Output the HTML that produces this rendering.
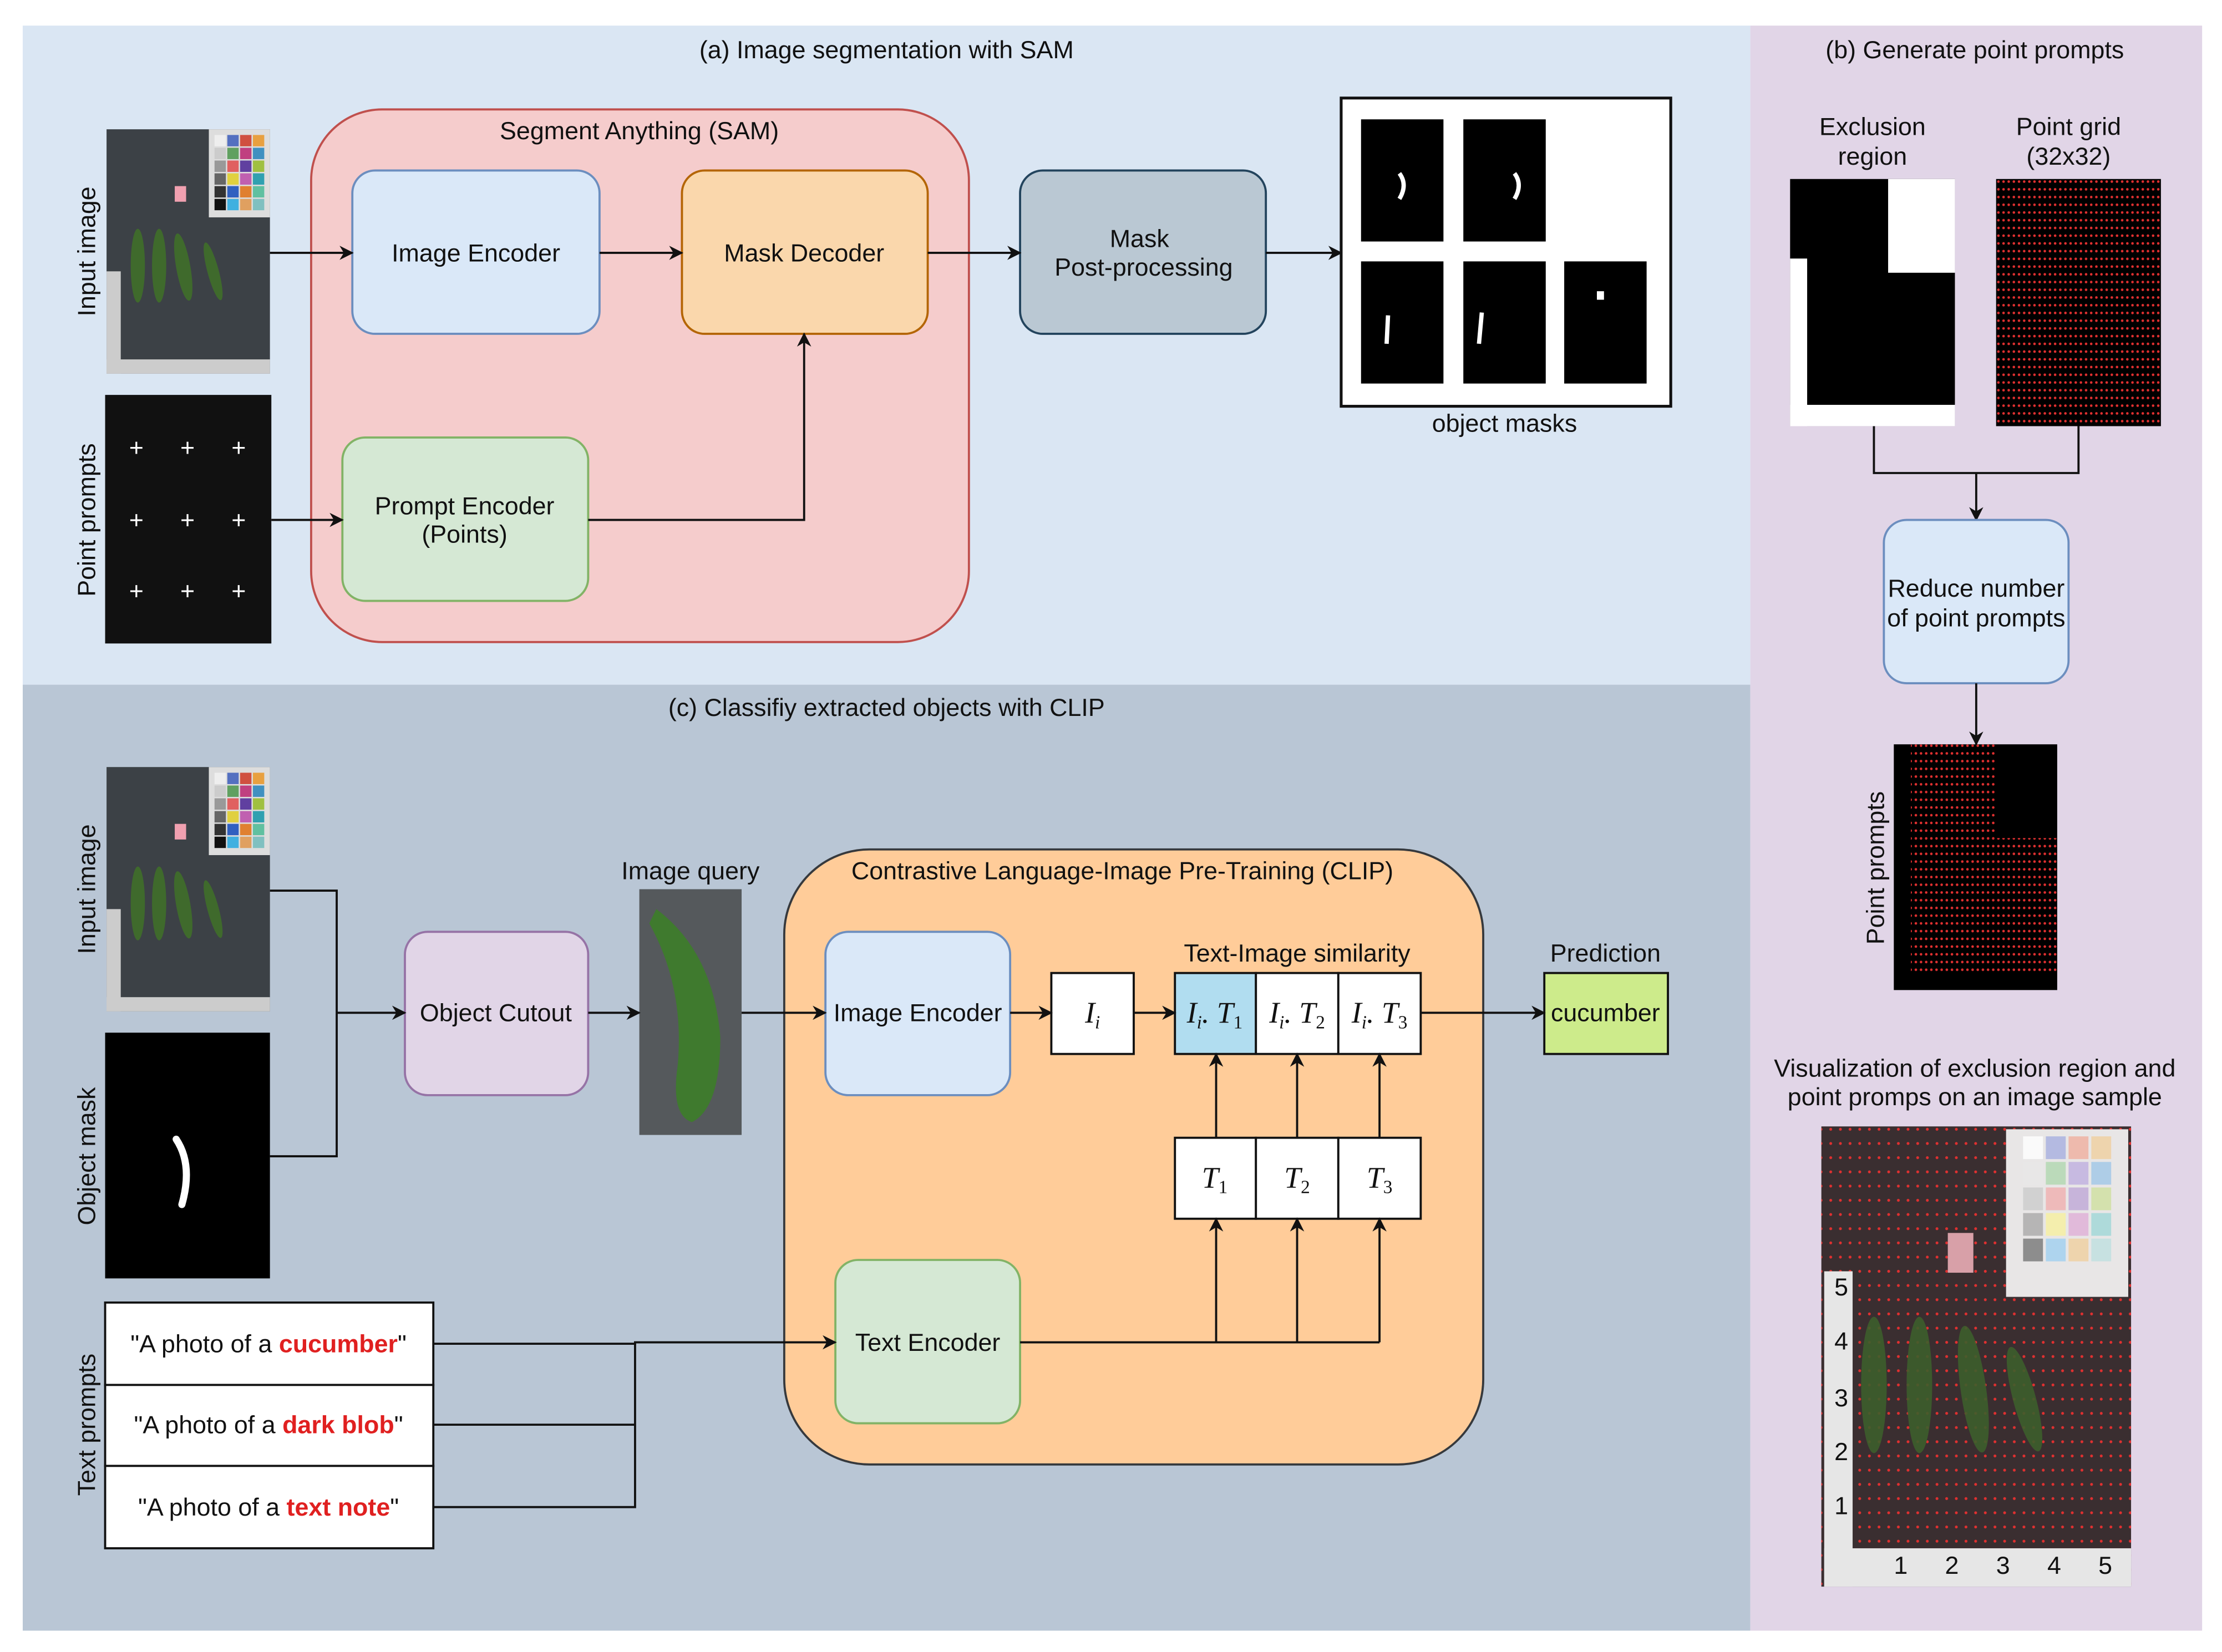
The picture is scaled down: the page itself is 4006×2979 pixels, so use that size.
<!DOCTYPE html>
<html><head><meta charset="utf-8"><style>html,body{margin:0;padding:0;background:#fff}svg{display:block}text{font-family:"Liberation Sans",sans-serif;font-size:17.5px;fill:#111}.m{font-family:"Liberation Serif",serif;font-style:italic;font-size:21px}</style></head><body>
<svg width="4006" height="2979" viewBox="0 0 1564 1163" xmlns="http://www.w3.org/2000/svg">
<defs>
<marker id="ar" markerWidth="10" markerHeight="10" refX="9" refY="5" orient="auto" markerUnits="userSpaceOnUse"><path d="M0,0 L10,5 L0,10 L3,5 Z" fill="#111"/></marker>
<pattern id="dots" width="3.63" height="5.44" patternUnits="userSpaceOnUse"><circle cx="1.8" cy="2.7" r="0.9" fill="#e03030"/></pattern>
<pattern id="dotsv" width="6.8" height="10" patternUnits="userSpaceOnUse"><circle cx="3.4" cy="5" r="1" fill="#e03030"/></pattern>
<g id="photo">
<rect x="0" y="0" width="115" height="172" fill="#3c4146"/>
<rect x="72" y="0" width="43" height="62" fill="#ddd"/>
<g>
<rect x="76" y="4" width="8" height="8" fill="#eee"/><rect x="85" y="4" width="8" height="8" fill="#5470c0"/><rect x="94" y="4" width="8" height="8" fill="#d05040"/><rect x="103" y="4" width="8" height="8" fill="#e8a040"/>
<rect x="76" y="13" width="8" height="8" fill="#ccc"/><rect x="85" y="13" width="8" height="8" fill="#60a060"/><rect x="94" y="13" width="8" height="8" fill="#c04080"/><rect x="103" y="13" width="8" height="8" fill="#4090c0"/>
<rect x="76" y="22" width="8" height="8" fill="#999"/><rect x="85" y="22" width="8" height="8" fill="#e06060"/><rect x="94" y="22" width="8" height="8" fill="#6040a0"/><rect x="103" y="22" width="8" height="8" fill="#a0c040"/>
<rect x="76" y="31" width="8" height="8" fill="#666"/><rect x="85" y="31" width="8" height="8" fill="#e0d040"/><rect x="94" y="31" width="8" height="8" fill="#c060b0"/><rect x="103" y="31" width="8" height="8" fill="#30a0b0"/>
<rect x="76" y="40" width="8" height="8" fill="#333"/><rect x="85" y="40" width="8" height="8" fill="#3060c0"/><rect x="94" y="40" width="8" height="8" fill="#e08030"/><rect x="103" y="40" width="8" height="8" fill="#60c0a0"/>
<rect x="76" y="49" width="8" height="8" fill="#111"/><rect x="85" y="49" width="8" height="8" fill="#40b0e0"/><rect x="94" y="49" width="8" height="8" fill="#e0a060"/><rect x="103" y="49" width="8" height="8" fill="#80c0c0"/>
</g>
<rect x="48" y="40" width="8" height="11" fill="#f0a0b0"/>
<rect x="0" y="100" width="10" height="72" fill="#ccc"/><rect x="0" y="162" width="115" height="10" fill="#ccc"/>
<ellipse cx="22" cy="96" rx="5" ry="26" fill="#3f6a2c"/><ellipse cx="37" cy="96" rx="5" ry="26" fill="#3f6a2c"/><ellipse cx="54" cy="97" rx="5" ry="24" fill="#3f6a2c" transform="rotate(-10 54 97)"/><ellipse cx="75" cy="100" rx="4" ry="21" fill="#3f6a2c" transform="rotate(-15 75 100)"/>
</g>
</defs>
<rect x="16" y="18" width="1216" height="464" fill="#dae6f3"/>
<rect x="16" y="482" width="1216" height="666" fill="#b9c6d5"/>
<rect x="1232" y="18" width="318" height="1130" fill="#e1d5e7"/>

<text x="624" y="41" text-anchor="middle" font-size="21.5">(a) Image segmentation with SAM</text>
<use href="#photo" x="75" y="91"/>
<rect x="74" y="278" width="117" height="175" fill="#111"/>
<g font-size="18"><text x="96" y="321" text-anchor="middle" style="fill:#fff">+</text><text x="132" y="321" text-anchor="middle" style="fill:#fff">+</text><text x="168" y="321" text-anchor="middle" style="fill:#fff">+</text><text x="96" y="372" text-anchor="middle" style="fill:#fff">+</text><text x="132" y="372" text-anchor="middle" style="fill:#fff">+</text><text x="168" y="372" text-anchor="middle" style="fill:#fff">+</text><text x="96" y="422" text-anchor="middle" style="fill:#fff">+</text><text x="132" y="422" text-anchor="middle" style="fill:#fff">+</text><text x="168" y="422" text-anchor="middle" style="fill:#fff">+</text></g>
<text transform="translate(67,177) rotate(-90)" text-anchor="middle">Input image</text>
<text transform="translate(67,366) rotate(-90)" text-anchor="middle">Point prompts</text>
<rect x="219" y="77" width="463" height="375" rx="50" fill="#f5cccc" stroke="#c0504d" stroke-width="1.5"/>
<text x="450" y="98" text-anchor="middle">Segment Anything (SAM)</text>
<rect x="248" y="120" width="174" height="115" rx="16" fill="#dae8f8" stroke="#6c8ebf" stroke-width="1.5"/>
<text x="335" y="184" text-anchor="middle">Image Encoder</text>
<rect x="480" y="120" width="173" height="115" rx="16" fill="#fad7ac" stroke="#b46504" stroke-width="1.5"/>
<text x="566" y="184" text-anchor="middle">Mask Decoder</text>
<rect x="241" y="308" width="173" height="115" rx="16" fill="#d5e8d4" stroke="#82b366" stroke-width="1.5"/>
<text x="327" y="362" text-anchor="middle">Prompt Encoder</text><text x="327" y="382" text-anchor="middle">(Points)</text>
<rect x="718" y="120" width="173" height="115" rx="16" fill="#bac8d3" stroke="#23445d" stroke-width="1.5"/>
<text x="802" y="174" text-anchor="middle">Mask</text><text x="805" y="194" text-anchor="middle">Post-processing</text>
<rect x="944" y="69" width="232" height="217" fill="#fff" stroke="#111" stroke-width="2"/>
<rect x="958" y="84" width="58" height="86" fill="#000"/><rect x="1030" y="84" width="58" height="86" fill="#000"/>
<rect x="958" y="184" width="58" height="86" fill="#000"/><rect x="1030" y="184" width="58" height="86" fill="#000"/><rect x="1101" y="184" width="58" height="86" fill="#000"/>
<path d="M985,122 q6,8 0,18" stroke="#fff" stroke-width="3" fill="none"/><path d="M1066,122 q6,8 0,18" stroke="#fff" stroke-width="3" fill="none"/>
<path d="M977,222 l-1,20" stroke="#fff" stroke-width="3"/><path d="M1043,220 l-2,22" stroke="#fff" stroke-width="3"/><rect x="1124" y="205" width="5" height="6" fill="#fff"/>
<text x="1059" y="304" text-anchor="middle">object masks</text>
<g stroke="#111" stroke-width="1.5" fill="none" marker-end="url(#ar)">
<path d="M190,178 H248"/><path d="M422,178 H480"/><path d="M653,178 H718"/><path d="M891,178 H944"/><path d="M191,366 H241"/><path d="M414,366 H566 V235"/>
</g>

<text x="624" y="504" text-anchor="middle" font-size="21.5">(c) Classifiy extracted objects with CLIP</text>
<use href="#photo" x="75" y="540"/>
<rect x="74" y="727" width="116" height="173" fill="#000"/>
<path d="M124,802 q12,18 4,46" stroke="#fff" stroke-width="5" fill="none" stroke-linecap="round"/>
<text transform="translate(67,626) rotate(-90)" text-anchor="middle">Input image</text>
<text transform="translate(67,814) rotate(-90)" text-anchor="middle">Object mask</text>
<text transform="translate(67,1003) rotate(-90)" text-anchor="middle">Text prompts</text>
<rect x="285" y="656" width="129" height="115" rx="16" fill="#e1d5e7" stroke="#9673a6" stroke-width="1.5"/>
<text x="349" y="719" text-anchor="middle">Object Cutout</text>
<text x="486" y="619" text-anchor="middle">Image query</text>
<rect x="450" y="626" width="72" height="173" fill="#55595c"/>
<path d="M462,640 q40,30 45,90 q0,50 -20,60 q-15,-5 -10,-40 q5,-55 -20,-100 z" fill="#3f7a2e"/>
<rect x="552" y="598" width="492" height="433" rx="60" fill="#ffcc99" stroke="#36393d" stroke-width="1.5"/>
<text x="790" y="619" text-anchor="middle">Contrastive Language-Image Pre-Training (CLIP)</text>
<rect x="581" y="656" width="130" height="115" rx="16" fill="#dae8f8" stroke="#6c8ebf" stroke-width="1.5"/>
<text x="646" y="719" text-anchor="middle">Image Encoder</text>
<rect x="588" y="887" width="130" height="115" rx="16" fill="#d5e8d4" stroke="#82b366" stroke-width="1.5"/>
<text x="653" y="951" text-anchor="middle">Text Encoder</text>
<text x="913" y="677" text-anchor="middle">Text-Image similarity</text>
<g stroke="#111" stroke-width="1.5">
<rect x="740" y="685" width="58" height="57" fill="#fff"/>
<rect x="827" y="685" width="57" height="57" fill="#b1ddf0"/>
<rect x="884" y="685" width="58" height="57" fill="#fff"/>
<rect x="942" y="685" width="58" height="57" fill="#fff"/>
<rect x="827" y="801" width="57" height="57" fill="#fff"/>
<rect x="884" y="801" width="58" height="57" fill="#fff"/>
<rect x="942" y="801" width="58" height="57" fill="#fff"/>
<rect x="1087" y="685" width="87" height="57" fill="#cdeb8b"/>
</g>
<text class="m" x="769" y="720" text-anchor="middle">I<tspan font-size="13" dy="4">i</tspan></text>
<text class="m" x="855" y="720" text-anchor="middle">I<tspan font-size="13" dy="4">i</tspan><tspan dy="-4">. T</tspan><tspan font-size="13" dy="4" font-style="normal">1</tspan></text>
<text class="m" x="913" y="720" text-anchor="middle">I<tspan font-size="13" dy="4">i</tspan><tspan dy="-4">. T</tspan><tspan font-size="13" dy="4" font-style="normal">2</tspan></text>
<text class="m" x="971" y="720" text-anchor="middle">I<tspan font-size="13" dy="4">i</tspan><tspan dy="-4">. T</tspan><tspan font-size="13" dy="4" font-style="normal">3</tspan></text>
<text class="m" x="855" y="836" text-anchor="middle">T<tspan font-size="13" dy="4" font-style="normal">1</tspan></text>
<text class="m" x="913" y="836" text-anchor="middle">T<tspan font-size="13" dy="4" font-style="normal">2</tspan></text>
<text class="m" x="971" y="836" text-anchor="middle">T<tspan font-size="13" dy="4" font-style="normal">3</tspan></text>
<text x="1130" y="677" text-anchor="middle">Prediction</text>
<text x="1130" y="719" text-anchor="middle">cucumber</text>
<g stroke="#111" stroke-width="1.5" fill="#fff">
<rect x="74" y="917" width="231" height="58"/><rect x="74" y="975" width="231" height="57"/><rect x="74" y="1032" width="231" height="58"/>
</g>
<text x="189" y="952" text-anchor="middle">"A photo of a <tspan font-weight="bold" style="fill:#e02020">cucumber</tspan>"</text>
<text x="189" y="1009" text-anchor="middle">"A photo of a <tspan font-weight="bold" style="fill:#e02020">dark blob</tspan>"</text>
<text x="189" y="1067" text-anchor="middle">"A photo of a <tspan font-weight="bold" style="fill:#e02020">text note</tspan>"</text>
<g stroke="#111" stroke-width="1.5" fill="none">
<path d="M190,627 H237 V814 H190"/><path d="M305,1003 H447"/><path d="M305,1061 H447 V946"/><path d="M718,945 H971"/>
</g>
<g stroke="#111" stroke-width="1.5" fill="none" marker-end="url(#ar)">
<path d="M237,713 H285"/><path d="M414,713 H450"/><path d="M522,713 H581"/><path d="M711,713 H740"/><path d="M798,713 H827"/><path d="M1000,713 H1087"/>
<path d="M305,946 H447 V945 H588"/>
<path d="M856,945 V858"/><path d="M913,945 V858"/><path d="M971,945 V858"/>
<path d="M856,801 V742"/><path d="M913,801 V742"/><path d="M971,801 V742"/>
</g>

<text x="1390" y="41" text-anchor="middle" font-size="21.5">(b) Generate point prompts</text>
<text x="1318" y="95" text-anchor="middle">Exclusion</text><text x="1318" y="116" text-anchor="middle">region</text>
<text x="1456" y="95" text-anchor="middle">Point grid</text><text x="1456" y="116" text-anchor="middle">(32x32)</text>
<rect x="1260" y="126" width="116" height="174" fill="#000"/>
<rect x="1329" y="126" width="47" height="66" fill="#fff"/>
<rect x="1260" y="182" width="12" height="118" fill="#fff"/><rect x="1260" y="285" width="116" height="15" fill="#fff"/>
<rect x="1405" y="126" width="116" height="174" fill="#000"/><rect x="1405" y="126" width="116" height="174" fill="url(#dots)"/>
<g stroke="#111" stroke-width="1.5" fill="none"><path d="M1319,300 V333 H1463 V300"/></g>
<path d="M1391,333 V366" stroke="#111" stroke-width="1.5" marker-end="url(#ar)"/>
<rect x="1326" y="366" width="130" height="115" rx="16" fill="#dae8f8" stroke="#6c8ebf" stroke-width="1.5"/>
<text x="1391" y="420" text-anchor="middle">Reduce number</text><text x="1391" y="441" text-anchor="middle">of point prompts</text>
<path d="M1391,481 V524" stroke="#111" stroke-width="1.5" marker-end="url(#ar)"/>
<rect x="1333" y="524" width="115" height="173" fill="#000"/>
<rect x="1345" y="524" width="60" height="66" fill="url(#dots)"/>
<rect x="1345" y="590" width="103" height="95" fill="url(#dots)"/>
<text transform="translate(1326,611) rotate(-90)" text-anchor="middle">Point prompts</text>
<text x="1390" y="758" text-anchor="middle">Visualization of exclusion region and</text>
<text x="1390" y="778" text-anchor="middle">point promps on an image sample</text>
<rect x="1282" y="793" width="218" height="324" fill="#3a2e30"/>
<rect x="1282" y="793" width="218" height="324" fill="url(#dotsv)"/>
<rect x="1412" y="795" width="86" height="118" fill="#e8e6e6"/>
<g opacity="0.8">
<rect x="1424" y="800" width="14" height="16" fill="#fff"/><rect x="1440" y="800" width="14" height="16" fill="#a8b0e0"/><rect x="1456" y="800" width="14" height="16" fill="#f0b0a0"/><rect x="1472" y="800" width="14" height="16" fill="#f0d0a0"/>
<rect x="1424" y="818" width="14" height="16" fill="#e8e8e8"/><rect x="1440" y="818" width="14" height="16" fill="#b0d8b0"/><rect x="1456" y="818" width="14" height="16" fill="#c0b0e0"/><rect x="1472" y="818" width="14" height="16" fill="#a0c8e8"/>
<rect x="1424" y="836" width="14" height="16" fill="#ccc"/><rect x="1440" y="836" width="14" height="16" fill="#f0b0b0"/><rect x="1456" y="836" width="14" height="16" fill="#c0a8d8"/><rect x="1472" y="836" width="14" height="16" fill="#d0e0a0"/>
<rect x="1424" y="854" width="14" height="16" fill="#aaa"/><rect x="1440" y="854" width="14" height="16" fill="#f8f0a0"/><rect x="1456" y="854" width="14" height="16" fill="#e0b0d8"/><rect x="1472" y="854" width="14" height="16" fill="#a0d8d8"/>
<rect x="1424" y="872" width="14" height="16" fill="#777"/><rect x="1440" y="872" width="14" height="16" fill="#a0d0f0"/><rect x="1456" y="872" width="14" height="16" fill="#f0d0a0"/><rect x="1472" y="872" width="14" height="16" fill="#c0e0e0"/>
</g>
<rect x="1371" y="868" width="18" height="28" fill="#d8a0a8"/>
<rect x="1284" y="895" width="20" height="222" fill="#e6e6e6"/>
<rect x="1284" y="1090" width="216" height="27" fill="#e6e6e6"/>
<g><text x="1296" y="912" text-anchor="middle" font-size="10">5</text><text x="1296" y="950" text-anchor="middle" font-size="10">4</text><text x="1296" y="990" text-anchor="middle" font-size="10">3</text><text x="1296" y="1028" text-anchor="middle" font-size="10">2</text><text x="1296" y="1066" text-anchor="middle" font-size="10">1</text>
<text x="1333" y="1108" font-size="10">1</text><text x="1369" y="1108" font-size="10">2</text><text x="1405" y="1108" font-size="10">3</text><text x="1441" y="1108" font-size="10">4</text><text x="1477" y="1108" font-size="10">5</text></g>
<g fill="#3d5e2c" opacity="0.9">
<ellipse cx="1319" cy="975" rx="9" ry="48"/><ellipse cx="1351" cy="975" rx="9" ry="48"/><ellipse cx="1389" cy="978" rx="9" ry="45" transform="rotate(-8 1389 978)"/><ellipse cx="1425" cy="985" rx="8" ry="38" transform="rotate(-15 1425 985)"/>
</g>
</svg>
</body></html>
